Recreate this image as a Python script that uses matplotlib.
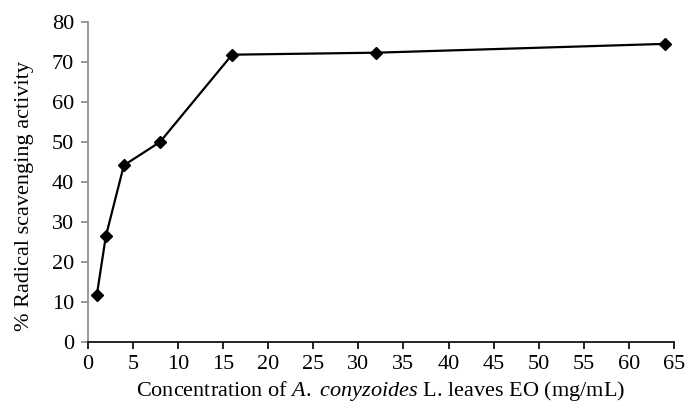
import matplotlib
matplotlib.use("Agg")
import matplotlib.pyplot as plt

conc = [1, 2, 4, 8, 16, 32, 64]
activity = [11.8, 26.5, 44.2, 50.0, 71.8, 72.3, 74.5]
xticks = list(range(0, 66, 5))
yticks = list(range(0, 81, 10))

plt.rcParams['font.family'] = ['Liberation Serif', 'DejaVu Serif']
plt.rcParams['mathtext.fontset'] = 'custom'
plt.rcParams['mathtext.rm'] = 'Liberation Serif'
plt.rcParams['mathtext.it'] = 'Liberation Serif:italic'
fs = 16
fig = plt.figure(figsize=(6.86, 4.12), dpi=100)
ax = fig.add_axes([0.128, 0.169, 0.8545, 0.778])
ax.plot(conc, activity, color='black', lw=1.6, marker='D', ms=6, mfc='black', mec='black')
ax.set_xlim(0, 65)
ax.set_ylim(0, 80)
ax.set_xticks(xticks)
ax.set_yticks(yticks)
for s in ['top', 'right']:
    ax.spines[s].set_visible(False)
ax.spines['left'].set_color('#888888')
ax.spines['left'].set_linewidth(1.2)
ax.spines['bottom'].set_color('black')
ax.spines['bottom'].set_linewidth(1.2)
ax.tick_params(axis='y', direction='out', length=5, color='#888888', width=1.2, labelsize=fs, pad=5)
ax.tick_params(axis='x', direction='out', length=5, color='black', width=1.2, labelsize=fs, pad=4)
ax.set_xlabel('Concentration of $\\it{A.}$ $\\it{conyzoides}$ L. leaves EO (mg/mL)', fontsize=fs, labelpad=4)
ax.set_ylabel('% Radical scavenging activity', fontsize=fs, labelpad=13)
ax.yaxis.label.set_y(0.457)
fig.savefig('out.png', dpi=100)
